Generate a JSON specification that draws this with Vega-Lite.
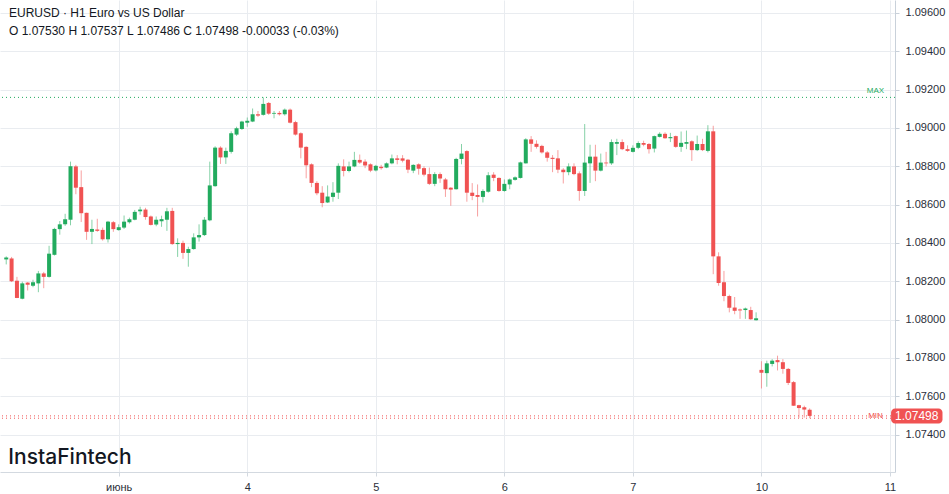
{
"$schema": "https://vega.github.io/schema/vega-lite/v6.json",
"width": 895, "height": 472, "autosize": "none", "padding": {"left": 0, "top": 0, "right": 54, "bottom": 22}, "background": "white",
"config": {"view": {"stroke": null}, "font": "Liberation Sans"},
"title": {"text": "EURUSD · H1 Euro vs US Dollar", "subtitle": "O 1.07530 H 1.07537 L 1.07486 C 1.07498  -0.00033 (-0.03%)", "anchor": "start", "frame": "group", "orient": "top", "offset": -38, "dx": 9, "font": "Liberation Sans", "fontSize": 12, "fontWeight": "normal", "color": "#131722", "subtitleFont": "Liberation Sans", "subtitleFontSize": 12, "subtitleColor": "#131722", "subtitlePadding": 6},
"data": {"values": [
{"i":-21,"o":1.08314,"h":1.08330,"l":1.08288,"c":1.08324},
{"i":-20,"o":1.08319,"h":1.08327,"l":1.08196,"c":1.08200},
{"i":-19,"o":1.08203,"h":1.08223,"l":1.08112,"c":1.08113},
{"i":-18,"o":1.08109,"h":1.08198,"l":1.08106,"c":1.08189},
{"i":-17,"o":1.08193,"h":1.08196,"l":1.08152,"c":1.08182},
{"i":-16,"o":1.08177,"h":1.08208,"l":1.08169,"c":1.08195},
{"i":-15,"o":1.08189,"h":1.08254,"l":1.08143,"c":1.08241},
{"i":-14,"o":1.08241,"h":1.08249,"l":1.08164,"c":1.08223},
{"i":-13,"o":1.08223,"h":1.08385,"l":1.08219,"c":1.08344},
{"i":-12,"o":1.08338,"h":1.08479,"l":1.08334,"c":1.08473},
{"i":-11,"o":1.08472,"h":1.08514,"l":1.08443,"c":1.08497},
{"i":-10,"o":1.08497,"h":1.08552,"l":1.08489,"c":1.08524},
{"i":-9,"o":1.08521,"h":1.08824,"l":1.08492,"c":1.08800},
{"i":-8,"o":1.08799,"h":1.08807,"l":1.08654,"c":1.08688},
{"i":-7,"o":1.08691,"h":1.08778,"l":1.08509,"c":1.08555},
{"i":-6,"o":1.08557,"h":1.08558,"l":1.08416,"c":1.08458},
{"i":-5,"o":1.08458,"h":1.08521,"l":1.08394,"c":1.08473},
{"i":-4,"o":1.08470,"h":1.08526,"l":1.08458,"c":1.08463},
{"i":-3,"o":1.08468,"h":1.08480,"l":1.08412,"c":1.08419},
{"i":-2,"o":1.08419,"h":1.08515,"l":1.08402,"c":1.08511},
{"i":-1,"o":1.08508,"h":1.08514,"l":1.08458,"c":1.08472},
{"i":0,"o":1.08467,"h":1.08497,"l":1.08464,"c":1.08482},
{"i":1,"o":1.08480,"h":1.08543,"l":1.08473,"c":1.08511},
{"i":2,"o":1.08508,"h":1.08532,"l":1.08501,"c":1.08524},
{"i":3,"o":1.08521,"h":1.08572,"l":1.08518,"c":1.08562},
{"i":4,"o":1.08565,"h":1.08589,"l":1.08547,"c":1.08574},
{"i":5,"o":1.08574,"h":1.08583,"l":1.08521,"c":1.08535},
{"i":6,"o":1.08538,"h":1.08543,"l":1.08491,"c":1.08494},
{"i":7,"o":1.08496,"h":1.08538,"l":1.08487,"c":1.08521},
{"i":8,"o":1.08513,"h":1.08542,"l":1.08484,"c":1.08524},
{"i":9,"o":1.08521,"h":1.08583,"l":1.08463,"c":1.08565},
{"i":10,"o":1.08567,"h":1.08583,"l":1.08390,"c":1.08394},
{"i":11,"o":1.08394,"h":1.08424,"l":1.08327,"c":1.08400},
{"i":12,"o":1.08400,"h":1.08412,"l":1.08317,"c":1.08348},
{"i":13,"o":1.08348,"h":1.08380,"l":1.08276,"c":1.08368},
{"i":14,"o":1.08368,"h":1.08450,"l":1.08365,"c":1.08429},
{"i":15,"o":1.08429,"h":1.08497,"l":1.08407,"c":1.08441},
{"i":16,"o":1.08441,"h":1.08535,"l":1.08436,"c":1.08521},
{"i":17,"o":1.08518,"h":1.08824,"l":1.08513,"c":1.08700},
{"i":18,"o":1.08696,"h":1.08904,"l":1.08693,"c":1.08897},
{"i":19,"o":1.08897,"h":1.08904,"l":1.08812,"c":1.08846},
{"i":20,"o":1.08846,"h":1.08897,"l":1.08812,"c":1.08880},
{"i":21,"o":1.08875,"h":1.08982,"l":1.08866,"c":1.08972},
{"i":22,"o":1.08965,"h":1.09006,"l":1.08958,"c":1.08998},
{"i":23,"o":1.08994,"h":1.09037,"l":1.08989,"c":1.09033},
{"i":24,"o":1.09027,"h":1.09054,"l":1.09006,"c":1.09037},
{"i":25,"o":1.09033,"h":1.09101,"l":1.09030,"c":1.09071},
{"i":26,"o":1.09071,"h":1.09088,"l":1.09057,"c":1.09064},
{"i":27,"o":1.09068,"h":1.09159,"l":1.09064,"c":1.09125},
{"i":28,"o":1.09130,"h":1.09135,"l":1.09068,"c":1.09074},
{"i":29,"o":1.09074,"h":1.09088,"l":1.09050,"c":1.09078},
{"i":30,"o":1.09078,"h":1.09088,"l":1.09064,"c":1.09071},
{"i":31,"o":1.09071,"h":1.09101,"l":1.09064,"c":1.09095},
{"i":32,"o":1.09095,"h":1.09101,"l":1.09023,"c":1.09027},
{"i":33,"o":1.09030,"h":1.09037,"l":1.08960,"c":1.08965},
{"i":34,"o":1.08972,"h":1.08977,"l":1.08841,"c":1.08897},
{"i":35,"o":1.08901,"h":1.08904,"l":1.08737,"c":1.08805},
{"i":36,"o":1.08810,"h":1.08815,"l":1.08691,"c":1.08713},
{"i":37,"o":1.08713,"h":1.08722,"l":1.08649,"c":1.08659},
{"i":38,"o":1.08662,"h":1.08696,"l":1.08586,"c":1.08608},
{"i":39,"o":1.08611,"h":1.08700,"l":1.08608,"c":1.08642},
{"i":40,"o":1.08640,"h":1.08717,"l":1.08615,"c":1.08662},
{"i":41,"o":1.08662,"h":1.08815,"l":1.08629,"c":1.08802},
{"i":42,"o":1.08799,"h":1.08836,"l":1.08747,"c":1.08775},
{"i":43,"o":1.08775,"h":1.08824,"l":1.08768,"c":1.08799},
{"i":44,"o":1.08799,"h":1.08875,"l":1.08795,"c":1.08833},
{"i":45,"o":1.08833,"h":1.08861,"l":1.08812,"c":1.08819},
{"i":46,"o":1.08824,"h":1.08836,"l":1.08790,"c":1.08804},
{"i":47,"o":1.08810,"h":1.08815,"l":1.08769,"c":1.08777},
{"i":48,"o":1.08778,"h":1.08807,"l":1.08773,"c":1.08802},
{"i":49,"o":1.08797,"h":1.08807,"l":1.08782,"c":1.08790},
{"i":50,"o":1.08793,"h":1.08820,"l":1.08790,"c":1.08815},
{"i":51,"o":1.08815,"h":1.08861,"l":1.08810,"c":1.08841},
{"i":52,"o":1.08841,"h":1.08858,"l":1.08810,"c":1.08833},
{"i":53,"o":1.08841,"h":1.08858,"l":1.08820,"c":1.08829},
{"i":54,"o":1.08834,"h":1.08838,"l":1.08764,"c":1.08782},
{"i":55,"o":1.08777,"h":1.08810,"l":1.08764,"c":1.08807},
{"i":56,"o":1.08810,"h":1.08815,"l":1.08756,"c":1.08787},
{"i":57,"o":1.08790,"h":1.08799,"l":1.08747,"c":1.08756},
{"i":58,"o":1.08759,"h":1.08793,"l":1.08702,"c":1.08708},
{"i":59,"o":1.08708,"h":1.08769,"l":1.08696,"c":1.08759},
{"i":60,"o":1.08759,"h":1.08768,"l":1.08713,"c":1.08736},
{"i":61,"o":1.08731,"h":1.08739,"l":1.08640,"c":1.08680},
{"i":62,"o":1.08688,"h":1.08691,"l":1.08594,"c":1.08678},
{"i":63,"o":1.08680,"h":1.08844,"l":1.08678,"c":1.08838},
{"i":64,"o":1.08838,"h":1.08916,"l":1.08810,"c":1.08866},
{"i":65,"o":1.08879,"h":1.08884,"l":1.08615,"c":1.08662},
{"i":66,"o":1.08662,"h":1.08712,"l":1.08623,"c":1.08645},
{"i":67,"o":1.08650,"h":1.08705,"l":1.08538,"c":1.08640},
{"i":68,"o":1.08640,"h":1.08680,"l":1.08611,"c":1.08671},
{"i":69,"o":1.08667,"h":1.08769,"l":1.08662,"c":1.08753},
{"i":70,"o":1.08756,"h":1.08769,"l":1.08722,"c":1.08739},
{"i":71,"o":1.08739,"h":1.08742,"l":1.08667,"c":1.08671},
{"i":72,"o":1.08671,"h":1.08731,"l":1.08667,"c":1.08708},
{"i":73,"o":1.08705,"h":1.08736,"l":1.08680,"c":1.08731},
{"i":74,"o":1.08729,"h":1.08747,"l":1.08725,"c":1.08742},
{"i":75,"o":1.08739,"h":1.08824,"l":1.08736,"c":1.08820},
{"i":76,"o":1.08815,"h":1.08946,"l":1.08814,"c":1.08940},
{"i":77,"o":1.08940,"h":1.08957,"l":1.08875,"c":1.08917},
{"i":78,"o":1.08917,"h":1.08935,"l":1.08892,"c":1.08901},
{"i":79,"o":1.08906,"h":1.08912,"l":1.08866,"c":1.08872},
{"i":80,"o":1.08872,"h":1.08879,"l":1.08824,"c":1.08844},
{"i":81,"o":1.08844,"h":1.08858,"l":1.08769,"c":1.08838},
{"i":82,"o":1.08841,"h":1.08884,"l":1.08764,"c":1.08782},
{"i":83,"o":1.08782,"h":1.08790,"l":1.08710,"c":1.08769},
{"i":84,"o":1.08769,"h":1.08815,"l":1.08753,"c":1.08799},
{"i":85,"o":1.08799,"h":1.08815,"l":1.08753,"c":1.08759},
{"i":86,"o":1.08763,"h":1.08773,"l":1.08620,"c":1.08671},
{"i":87,"o":1.08671,"h":1.09020,"l":1.08645,"c":1.08819},
{"i":88,"o":1.08815,"h":1.08912,"l":1.08713,"c":1.08850},
{"i":89,"o":1.08850,"h":1.08912,"l":1.08722,"c":1.08777},
{"i":90,"o":1.08777,"h":1.08866,"l":1.08773,"c":1.08819},
{"i":91,"o":1.08819,"h":1.08875,"l":1.08799,"c":1.08815},
{"i":92,"o":1.08815,"h":1.08940,"l":1.08807,"c":1.08926},
{"i":93,"o":1.08917,"h":1.08943,"l":1.08858,"c":1.08926},
{"i":94,"o":1.08926,"h":1.08940,"l":1.08884,"c":1.08889},
{"i":95,"o":1.08889,"h":1.08909,"l":1.08875,"c":1.08880},
{"i":96,"o":1.08875,"h":1.08909,"l":1.08872,"c":1.08896},
{"i":97,"o":1.08896,"h":1.08930,"l":1.08889,"c":1.08921},
{"i":98,"o":1.08921,"h":1.08933,"l":1.08904,"c":1.08912},
{"i":99,"o":1.08916,"h":1.08921,"l":1.08866,"c":1.08889},
{"i":100,"o":1.08892,"h":1.08960,"l":1.08872,"c":1.08957},
{"i":101,"o":1.08953,"h":1.08977,"l":1.08950,"c":1.08969},
{"i":102,"o":1.08969,"h":1.08977,"l":1.08943,"c":1.08946},
{"i":103,"o":1.08946,"h":1.08974,"l":1.08926,"c":1.08952},
{"i":104,"o":1.08957,"h":1.08960,"l":1.08896,"c":1.08901},
{"i":105,"o":1.08901,"h":1.08981,"l":1.08875,"c":1.08922},
{"i":106,"o":1.08917,"h":1.08986,"l":1.08889,"c":1.08926},
{"i":107,"o":1.08930,"h":1.08935,"l":1.08828,"c":1.08884},
{"i":108,"o":1.08884,"h":1.08960,"l":1.08879,"c":1.08916},
{"i":109,"o":1.08916,"h":1.08943,"l":1.08879,"c":1.08884},
{"i":110,"o":1.08880,"h":1.09014,"l":1.08872,"c":1.08982},
{"i":111,"o":1.08982,"h":1.09011,"l":1.08237,"c":1.08330},
{"i":112,"o":1.08330,"h":1.08351,"l":1.08177,"c":1.08191},
{"i":113,"o":1.08195,"h":1.08254,"l":1.08096,"c":1.08123},
{"i":114,"o":1.08123,"h":1.08130,"l":1.08038,"c":1.08062},
{"i":115,"o":1.08063,"h":1.08118,"l":1.08028,"c":1.08046},
{"i":116,"o":1.08053,"h":1.08058,"l":1.08004,"c":1.08048},
{"i":117,"o":1.08050,"h":1.08063,"l":1.08004,"c":1.08058},
{"i":118,"o":1.08050,"h":1.08067,"l":1.07999,"c":1.08002},
{"i":119,"o":1.07997,"h":1.08038,"l":1.07995,"c":1.08007},
{"i":120,"o":1.07738,"h":1.07783,"l":1.07641,"c":1.07723},
{"i":121,"o":1.07721,"h":1.07786,"l":1.07650,"c":1.07772},
{"i":122,"o":1.07769,"h":1.07794,"l":1.07756,"c":1.07786},
{"i":123,"o":1.07789,"h":1.07812,"l":1.07735,"c":1.07778},
{"i":124,"o":1.07778,"h":1.07794,"l":1.07718,"c":1.07743},
{"i":125,"o":1.07743,"h":1.07748,"l":1.07659,"c":1.07670},
{"i":126,"o":1.07674,"h":1.07680,"l":1.07550,"c":1.07551},
{"i":127,"o":1.07554,"h":1.07556,"l":1.07488,"c":1.07539},
{"i":128,"o":1.07543,"h":1.07551,"l":1.07489,"c":1.07531},
{"i":129,"o":1.07530,"h":1.07537,"l":1.07486,"c":1.07498}
]},
"layer": [
{"mark": {"type": "rule", "strokeWidth": 1, "opacity": 0.55},
 "encoding": {
  "x": {"field": "i", "type": "quantitative", "scale": {"domain": [-21.23, 144], "nice": false, "zero": false},
   "axis": {"values": [0, 24, 48, 72, 96, 120, 144], "labelExpr": "datum.value == 0 ? 'июнь' : datum.value == 24 ? '4' : datum.value == 48 ? '5' : datum.value == 72 ? '6' : datum.value == 96 ? '7' : datum.value == 120 ? '10' : '11'", "title": null, "grid": true, "gridColor": "#e9ecf0", "domainColor": "#d3d9e0", "tickColor": "#d3d9e0", "tickSize": 4, "labelFont": "Liberation Sans", "labelFontSize": 11, "labelColor": "#2a2e39", "labelPadding": 5, "labelFlush": false, "labelOverlap": false}},
  "y": {"field": "l", "type": "quantitative", "scale": {"domain": [1.072315, 1.096408], "nice": false, "zero": false},
   "axis": {"orient": "right", "values": [1.074, 1.076, 1.078, 1.08, 1.082, 1.084, 1.086, 1.088, 1.09, 1.092, 1.094, 1.096], "format": ".5f", "title": null, "grid": true, "gridColor": "#e9ecf0", "domainColor": "#c9d1da", "tickColor": "#c9d1da", "tickSize": 4, "labelFont": "Liberation Sans", "labelFontSize": 11, "labelColor": "#2a2e39", "labelPadding": 6}},
  "y2": {"field": "h"},
  "color": {"condition": {"test": "datum.c >= datum.o", "value": "#22ab5e"}, "value": "#f05252"}
 }},
{"mark": {"type": "bar", "size": 4},
 "encoding": {
  "x": {"field": "i", "type": "quantitative"},
  "y": {"field": "o", "type": "quantitative"},
  "y2": {"field": "c"},
  "color": {"condition": {"test": "datum.c >= datum.o", "value": "#22ab5e"}, "value": "#f05252"}
 }},
{"transform": [{"aggregate": [{"op": "max", "field": "h", "as": "maxh"}]}],
 "mark": {"type": "rule", "color": "#22ab5e", "strokeDash": [1, 3], "strokeWidth": 1},
 "encoding": {"y": {"field": "maxh", "type": "quantitative"}}},
{"transform": [{"aggregate": [{"op": "min", "field": "l", "as": "minl"}]}],
 "mark": {"type": "rule", "color": "#f05252", "strokeDash": [1, 3], "strokeWidth": 1},
 "encoding": {"y": {"field": "minl", "type": "quantitative"}}},
{"transform": [{"filter": "datum.i == 129"}],
 "mark": {"type": "rule", "color": "#f05252", "strokeDash": [1, 3], "strokeWidth": 1},
 "encoding": {"y": {"field": "c", "type": "quantitative"}}},
{"transform": [{"aggregate": [{"op": "max", "field": "h", "as": "maxh"}]}],
 "mark": {"type": "text", "text": "MAX", "color": "#22ab5e", "fontSize": 8, "font": "Liberation Sans", "align": "center", "baseline": "middle", "dy": -6},
 "encoding": {"x": {"datum": 141.3, "type": "quantitative"}, "y": {"field": "maxh", "type": "quantitative"}}},
{"transform": [{"aggregate": [{"op": "min", "field": "l", "as": "minl"}]}],
 "mark": {"type": "text", "text": "MIN", "color": "#f05252", "fontSize": 8, "font": "Liberation Sans", "align": "center", "baseline": "middle", "dy": -2},
 "encoding": {"x": {"datum": 141.3, "type": "quantitative"}, "y": {"field": "minl", "type": "quantitative"}}},
{"transform": [{"filter": "datum.i == 129"}],
 "mark": {"type": "bar", "color": "#f05252", "size": 15, "cornerRadius": 4, "orient": "horizontal"},
 "encoding": {"x": {"datum": 144.2, "type": "quantitative"}, "x2": {"datum": 153.8}, "y": {"field": "c", "type": "quantitative"}}},
{"transform": [{"filter": "datum.i == 129"}],
 "mark": {"type": "text", "color": "white", "fontSize": 12, "font": "Liberation Sans", "align": "center", "baseline": "middle"},
 "encoding": {"x": {"datum": 149, "type": "quantitative"}, "y": {"field": "c", "type": "quantitative"}, "text": {"field": "c", "type": "quantitative", "format": ".5f"}}},
{"data": {"values": [{"label": "InstaFintech"}]},
 "mark": {"type": "text", "color": "#131722", "fontSize": 21, "font": "Inter", "fontWeight": 500, "align": "left", "baseline": "alphabetic"},
 "encoding": {"x": {"datum": -20.6, "type": "quantitative"}, "y": {"datum": 1.07247, "type": "quantitative"}, "text": {"field": "label"}}}
]
}
